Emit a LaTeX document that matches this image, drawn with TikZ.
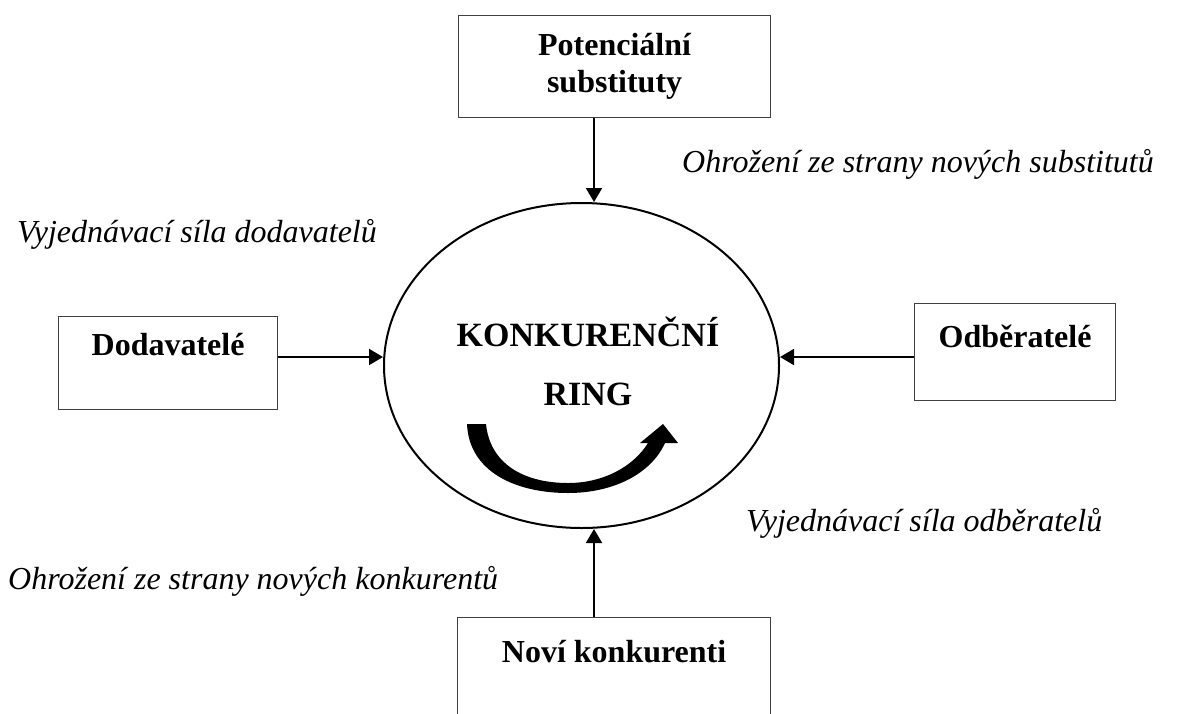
\documentclass[tikz,border=0pt]{standalone}
\usepackage{fontspec}
\setmainfont{Liberation Serif}
\usetikzlibrary{shapes.geometric,arrows.meta}
\tikzset{
  boxnode/.style={draw=black!75, line width=1.2pt, rectangle, inner xsep=0pt, inner ysep=0pt,
     align=center, font=\fontsize{32}{37}\selectfont\bfseries, anchor=north west},
  lbl/.style={font=\fontsize{32}{37}\selectfont\itshape, anchor=base west, inner sep=0pt},
  arr/.style={line width=2pt, -{Triangle[length=14pt,width=16pt]}},
}
\begin{document}
\begin{tikzpicture}[x=1pt,y=-1pt]
\clip (0,0) rectangle (1177,713);
\fill[white] (0,0) rectangle (1177,713);
% boxes
\node[boxnode, minimum width=312pt, text height=77pt, text depth=25pt] (top) at (458,15) {Potenciální\\substituty};
\node[boxnode, minimum width=219pt, text height=39pt, text depth=54pt] (left) at (58,316) {Dodavatelé};
\node[boxnode, minimum width=201pt, text height=44pt, text depth=53pt] (right) at (914,303) {Odběratelé};
\node[boxnode, minimum width=313pt, text height=45pt, text depth=120pt] (bot) at (457,617) {Noví konkurenti};
% ring
\node[ellipse, draw, line width=2pt, minimum width=395pt, minimum height=325pt, inner sep=0pt] (ring) at (581.5,365.5) {};
\node[anchor=base, align=center, inner sep=0pt, font=\fontsize{34}{59}\selectfont\bfseries] (ringtext) at (588,405) {KONKURENČNÍ\\RING};
% curved arrow
\fill[black] (467,424) .. controls (469,472) and (516,493) .. (568,493)
  .. controls (613,493) and (651,474) .. (665,443)
  -- (678,443) -- (663,424) -- (640,443) -- (648,443)
  .. controls (633,467) and (603,483) .. (568,483)
  .. controls (524,483) and (490,464) .. (486,424) -- cycle;
% connector guides
\coordinate (vl) at (594,0);
\coordinate (hl) at (0,357);
\draw[arr] (top.south -| vl) -- (vl |- ring.north);
\draw[arr] (bot.north -| vl) -- (vl |- ring.south);
\draw[arr] (left.east |- hl) -- (hl -| ring.west);
\draw[arr] (right.west |- hl) -- (hl -| ring.east);
% labels
\node[lbl] (lsub) at (682,172) {Ohrožení ze strany nových substitutů};
\node[lbl] (ldod) at (17,242) {Vyjednávací síla dodavatelů};
\node[lbl] (lodb) at (746,531) {Vyjednávací síla odběratelů};
\node[lbl] (lkon) at (8,589) {Ohrožení ze strany nových konkurentů};
\end{tikzpicture}
\end{document}
